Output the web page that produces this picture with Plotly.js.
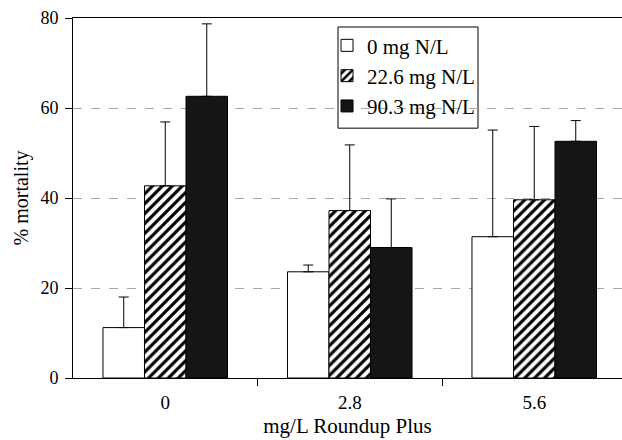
<!DOCTYPE html>
<html><head><meta charset="utf-8">
<script src="https://cdn.plot.ly/plotly-3.0.1.min.js"></script>
<style>html,body{margin:0;padding:0;overflow:hidden;background:#fff}</style>
</head><body><div id="chart" style="width:622px;height:440px"></div>
<script>
const categories = ['0', '2.8', '5.6'];
const seriesNames = ['0 mg N/L', '22.6 mg N/L', '90.3 mg N/L'];
const mortality0 = [11.2, 23.6, 31.4];
const mortality22 = [42.7, 37.2, 39.6];
const mortality90 = [62.6, 29.0, 52.6];
const errUp0 = [6.8, 1.5, 23.7];
const errUp22 = [14.2, 14.6, 16.3];
const errUp90 = [16.1, 10.8, 4.6];
const positions = [0, 1, 2];

const FONT = '"Liberation Serif", "Times New Roman", serif';

function bar(name, y, err, fill, pattern) {
  const m = {color: fill, line: {color: '#000', width: 1}};
  if (pattern) m.pattern = pattern;
  return {
    type: 'bar', name: name, x: positions, y: y, marker: m,
    legendgroup: name,
    error_y: {type: 'data', symmetric: false, array: err, arrayminus: [0,0,0],
              color: '#000', thickness: 1, width: 5}
  };
}

const data = [
  bar(seriesNames[0], mortality0, errUp0, '#ffffff'),
  bar(seriesNames[1], mortality22, errUp22, '#ffffff',
      {shape: '/', fgcolor: '#000', bgcolor: '#fff', size: 7, solidity: 0.45}),
  bar(seriesNames[2], mortality90, errUp90, '#151515')
];

const layout = {
  width: 622, height: 440,
  margin: {l: 73, r: 0, t: 18, b: 62},
  paper_bgcolor: '#fff', plot_bgcolor: '#fff',
  font: {family: FONT, color: '#000', size: 19},
  barmode: 'group', bargap: 0.325, bargroupgap: 0,
  showlegend: true,
  legend: {x: 0.4627, y: 0.98, xanchor: 'left', yanchor: 'top',
           bgcolor: 'rgba(0,0,0,0)', borderwidth: 0,
           font: {family: FONT, size: 21, color: '#000'},
           traceorder: 'grouped', tracegroupgap: 0},
  xaxis: {
    range: [-0.5, 2.4756], tickmode: 'array', tickvals: positions, ticktext: categories,
    ticks: '', showline: true, linecolor: '#000', linewidth: 1, mirror: true,
    showgrid: false, zeroline: false, ticklabelstandoff: 7,
    tickfont: {family: FONT, size: 19},
    minor: {tickmode: 'array', tickvals: [0.5, 1.5], ticks: 'outside', ticklen: 7,
            tickcolor: '#000', tickwidth: 1, showgrid: false},
    title: {text: 'mg/L Roundup Plus', font: {family: FONT, size: 21}, standoff: 6}
  },
  yaxis: {
    range: [0, 80], tickmode: 'array', tickvals: [0, 20, 40, 60, 80],
    ticks: 'outside', ticklen: 7, tickcolor: '#000', tickwidth: 1,
    showline: true, linecolor: '#000', linewidth: 1,
    showgrid: true, gridcolor: '#a8a8a8', gridwidth: 1, griddash: 'dash',
    zeroline: false, ticklabelstandoff: 3,
    tickfont: {family: FONT, size: 18},
    title: {text: '% mortality', font: {family: FONT, size: 20}, standoff: 6}
  },
  shapes: [{type: 'rect', xref: 'paper', yref: 'paper', layer: 'between',
            x0: 0.4827, x1: 0.7377, y0: 0.694, y1: 0.975,
            line: {color: '#000', width: 1}, fillcolor: '#fff'}]
};

Plotly.newPlot('chart', data, layout, {displayModeBar: false, staticPlot: true});
</script></body></html>
